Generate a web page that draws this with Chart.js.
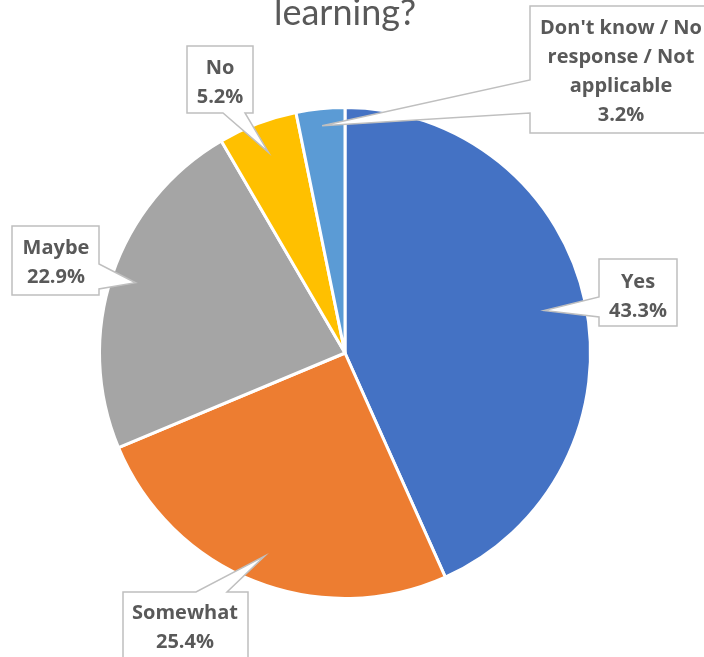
<!DOCTYPE html>
<html>
<head>
<meta charset="utf-8">
<script src="https://cdn.jsdelivr.net/npm/chart.js@4.4.1/dist/chart.umd.min.js"></script>
<style>
  html, body { margin: 0; padding: 0; background: #fff; }
  #wrap { width: 704px; height: 657px; position: relative; }
</style>
</head>
<body>
<div id="wrap"><canvas id="chartpie" width="704" height="657"></canvas></div>
<script>
const categorias = ['Yes', 'Somewhat', 'Maybe', 'No', "Don't know / No response / Not applicable"]
const porcentajes = [43.3, 25.4, 22.9, 5.2, 3.2]
const colores = ['#4472C4', '#ED7D31', '#A5A5A5', '#FFC000', '#5B9BD5']
const lineasEtiqueta = [
    ['Yes'],
    ['Somewhat'],
    ['Maybe'],
    ['No'],
    ["Don't know / No", 'response / Not', 'applicable']
]
const tituloLineas = ['learning?']

// cajas de las etiquetas: caja, lado del piquito y donde apunta dentro del sector
const callouts = [
    { box: [599, 259, 677, 326], side: 'left', base: [297, 317], f: 0.83, cx: 638, y0: 288 },
    { box: [123, 592, 248, 672], side: 'top', base: [196, 227], f: 0.89, cx: 185, y0: 619 },
    { box: [12, 226, 99, 295], side: 'right', base: [264, 289], f: 0.90, cx: 56, y0: 254 },
    { box: [187, 46, 253, 113], side: 'bottom', base: [223, 245], f: 0.875, cx: 220, y0: 74 },
    { box: [530, 6, 712, 133], side: 'left', base: [80, 113], f: 0.93, cx: 621, y0: 34 }
]

const fuenteTitulo = 'Lato, "Open Sans", sans-serif'
const fuenteEtiqueta = '"Open Sans", Lato, sans-serif'

const pluginTitulo = {
    id: 'tituloCortado',
    afterDraw(chart) {
        const ctx = chart.ctx
        ctx.save()
        ctx.fillStyle = '#595959'
        ctx.font = '36px ' + fuenteTitulo
        ctx.textAlign = 'center'
        ctx.textBaseline = 'alphabetic'
        tituloLineas.forEach((t, i) => {
            ctx.fillText(t, 345, 25 - (tituloLineas.length - 1 - i) * 44)
        })
        ctx.restore()
    }
}

const pluginCallouts = {
    id: 'callouts',
    afterDatasetsDraw(chart) {
        const ctx = chart.ctx
        const meta = chart.getDatasetMeta(0)
        meta.data.forEach((arc, i) => {
            const c = callouts[i]
            if (!c) return
            const props = arc.getProps(['x', 'y', 'startAngle', 'endAngle', 'outerRadius'], true)
            const mid = (props.startAngle + props.endAngle) / 2
            const tx = props.x + Math.cos(mid) * props.outerRadius * c.f
            const ty = props.y + Math.sin(mid) * props.outerRadius * c.f
            const [x1, y1, x2, y2] = c.box
            const [b1, b2] = c.base

            ctx.save()
            ctx.beginPath()
            ctx.moveTo(x1, y1)
            if (c.side === 'top') { ctx.lineTo(b1, y1); ctx.lineTo(tx, ty); ctx.lineTo(b2, y1) }
            ctx.lineTo(x2, y1)
            if (c.side === 'right') { ctx.lineTo(x2, b1); ctx.lineTo(tx, ty); ctx.lineTo(x2, b2) }
            ctx.lineTo(x2, y2)
            if (c.side === 'bottom') { ctx.lineTo(b2, y2); ctx.lineTo(tx, ty); ctx.lineTo(b1, y2) }
            ctx.lineTo(x1, y2)
            if (c.side === 'left') { ctx.lineTo(x1, b2); ctx.lineTo(tx, ty); ctx.lineTo(x1, b1) }
            ctx.closePath()
            ctx.fillStyle = '#ffffff'
            ctx.fill()
            ctx.strokeStyle = '#BFBFBF'
            ctx.lineWidth = 1.5
            ctx.stroke()

            ctx.fillStyle = '#595959'
            ctx.font = 'bold 20px ' + fuenteEtiqueta
            ctx.textAlign = 'center'
            ctx.textBaseline = 'alphabetic'
            const lineas = lineasEtiqueta[i].concat([porcentajes[i].toFixed(1) + '%'])
            lineas.forEach((l, k) => ctx.fillText(l, c.cx, c.y0 + k * 29))
            ctx.restore()
        })
    }
}

const canvas = document.getElementById('chartpie')
const context = canvas.getContext('2d')

const chartPie = new Chart(context, {
    type: 'pie',
    data: {
        labels: categorias,
        datasets: [
            {
                data: porcentajes,
                backgroundColor: colores,
                borderColor: '#ffffff',
                borderWidth: 3
            }
        ]
    },
    options: {
        responsive: false,
        animation: false,
        layout: {
            padding: { left: 98, right: 112, top: 106, bottom: 57 }
        },
        plugins: {
            legend: { display: false },
            tooltip: { enabled: false },
            title: { display: false }
        }
    },
    plugins: [pluginCallouts, pluginTitulo]
})
</script>
</body>
</html>
